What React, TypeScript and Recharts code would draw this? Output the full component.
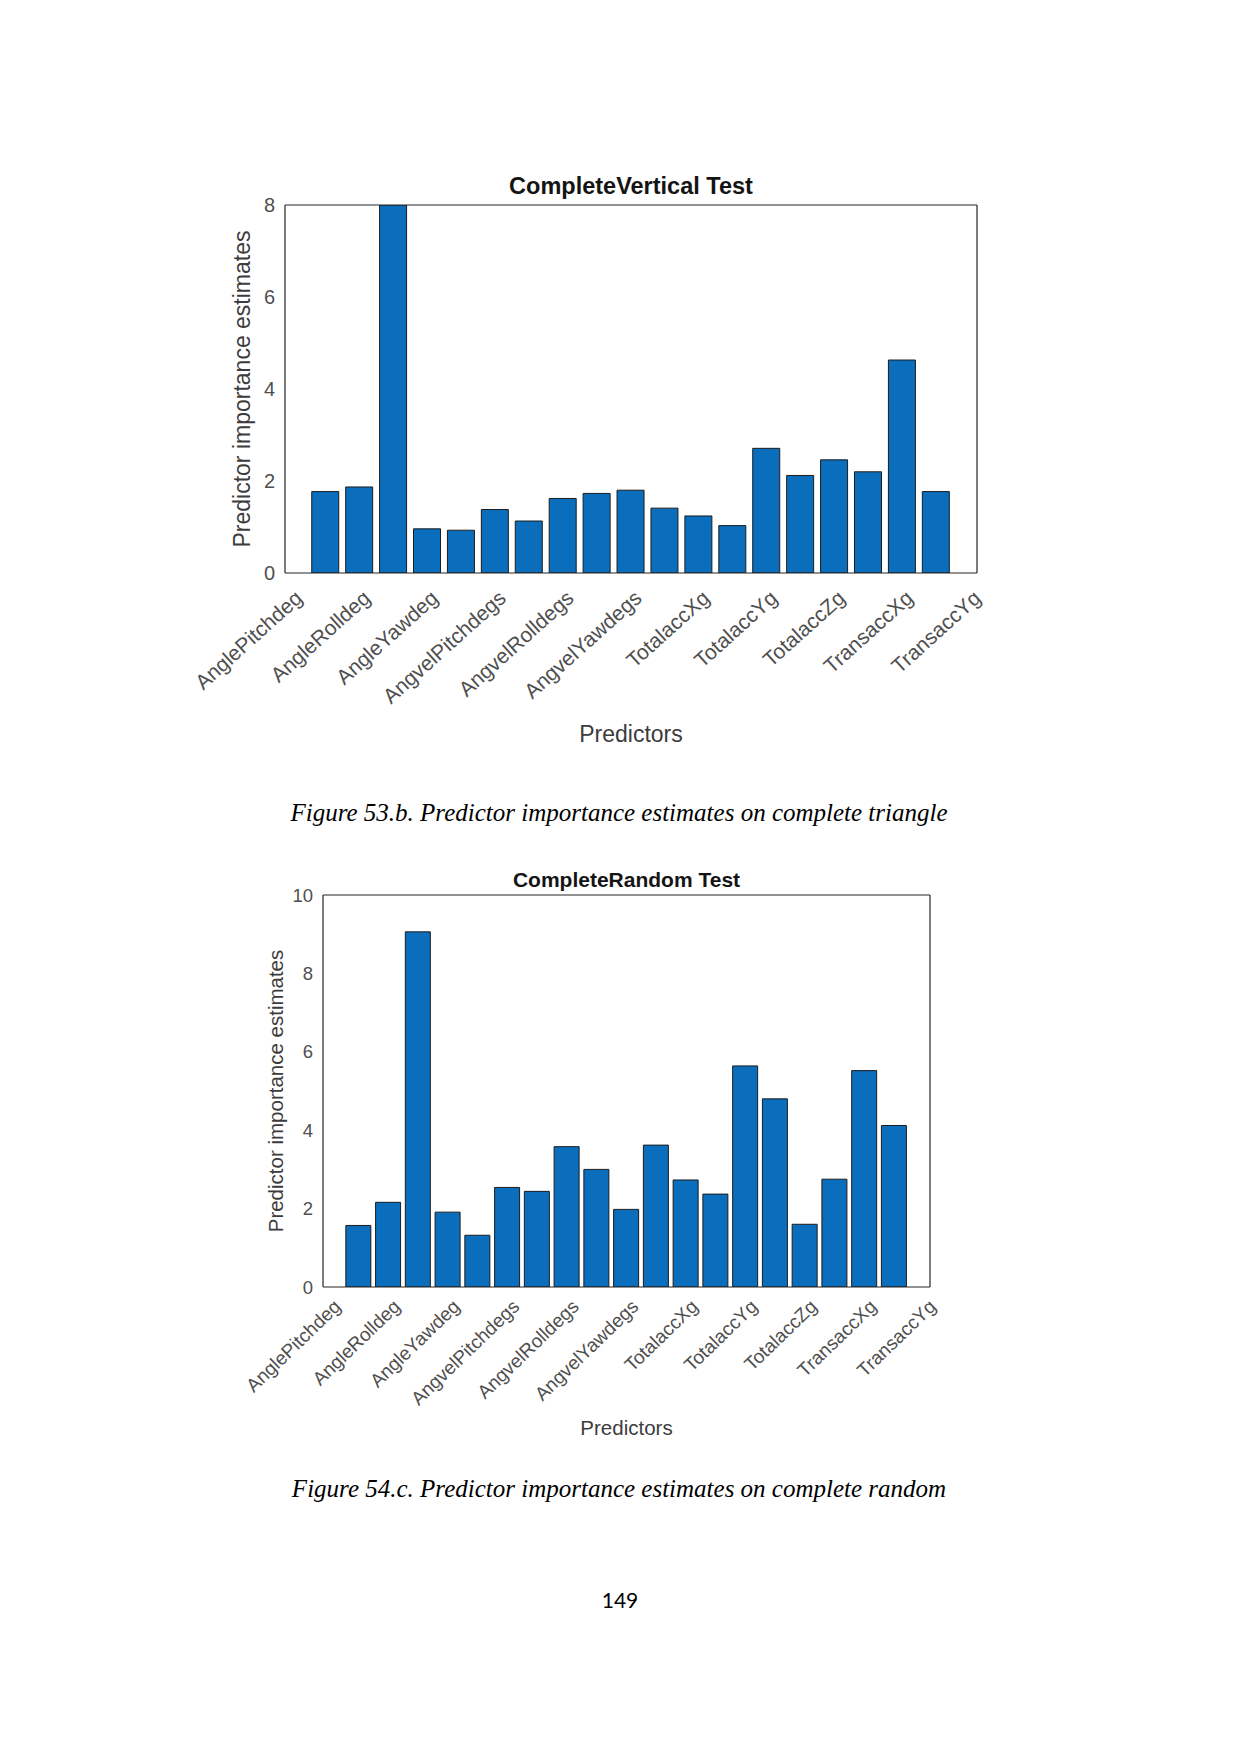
import React from 'react';
import { BarChart, Bar, XAxis, YAxis } from 'recharts';

// tick labels shown under every second bar
const predictorLabels = [
  'AnglePitchdeg',
  'AngleRolldeg',
  'AngleYawdeg',
  'AngvelPitchdegs',
  'AngvelRolldegs',
  'AngvelYawdegs',
  'TotalaccXg',
  'TotalaccYg',
  'TotalaccZg',
  'TransaccXg',
  'TransaccYg',
];
const labelPositions = [0, 2, 4, 6, 8, 10, 12, 14, 16, 18, 20];
const barPositions = [1, 2, 3, 4, 5, 6, 7, 8, 9, 10, 11, 12, 13, 14, 15, 16, 17, 18, 19];

const verticalValues = [1.77, 1.87, 8.0, 0.96, 0.93, 1.38, 1.13, 1.62, 1.73, 1.8, 1.41, 1.24, 1.03, 2.71, 2.12, 2.46, 2.2, 4.63, 1.77];
const randomValues = [1.57, 2.16, 9.06, 1.91, 1.32, 2.54, 2.44, 3.58, 3.0, 1.98, 3.62, 2.73, 2.37, 5.64, 4.8, 1.6, 2.75, 5.52, 4.12];

const verticalYTicks = [0, 2, 4, 6, 8];
const randomYTicks = [0, 2, 4, 6, 8, 10];

const SANS = '"Liberation Sans", Arial, sans-serif';
const AXIS = '#262626';
const TICK_TEXT = '#4f4f4f';

type Box = { left: number; top: number; right: number; bottom: number };

type ChartProps = {
  title: string;
  values: number[];
  yTicks: number[];
  plot: Box;
  barSize: number;
  tickFont: number;
  yTickFont: number;
  labelFont: number;
  titleFont: number;
  angle: number;
  labelDx: number;
  labelDy: number;
  yLabelX: number;
  titleY: number;
  xLabelY: number;
};

const PAD_L = 120;
const PAD_T = 40;
const PAD_R = 40;
const PAD_B = 160;
const Y_AXIS_W = 50;
const X_AXIS_H = 40;

function ImportanceChart(p: ChartProps) {
  const data = barPositions.map((pos, i) => ({ pos, value: p.values[i] }));
  const plotW = p.plot.right - p.plot.left;
  const plotH = p.plot.bottom - p.plot.top;
  const w = plotW + PAD_L + PAD_R;
  const h = plotH + PAD_T + PAD_B;
  const xDomain: [number, number] = [-0.2, 20.2];
  const yDomain: [number, number] = [0, p.yTicks[p.yTicks.length - 1]];
  const cx = (p.plot.left + p.plot.right) / 2;
  const cy = (p.plot.top + p.plot.bottom) / 2;

  const XTick = (props: any) => {
    const { x, y, payload } = props;
    const label = predictorLabels[labelPositions.indexOf(payload.value)];
    const ax = x + p.labelDx;
    const ay = y + p.labelDy;
    return (
      <text
        x={ax}
        y={ay}
        transform={`rotate(${p.angle}, ${ax}, ${ay})`}
        textAnchor="end"
        fontSize={p.tickFont}
        fontFamily={SANS}
        fill={TICK_TEXT}
      >
        {label}
      </text>
    );
  };

  return (
    <>
      <div
        style={{
          position: 'absolute',
          left: cx - 300,
          width: 600,
          top: p.titleY - 15,
          lineHeight: '30px',
          textAlign: 'center',
          fontFamily: SANS,
          fontWeight: 'bold',
          fontSize: p.titleFont,
          color: '#141414',
        }}
      >
        {p.title}
      </div>
      <div
        style={{
          position: 'absolute',
          left: p.yLabelX - 250,
          width: 500,
          top: cy - 15,
          lineHeight: '30px',
          textAlign: 'center',
          fontFamily: SANS,
          fontSize: p.labelFont,
          color: '#3c3c3c',
          transform: 'rotate(-90deg)',
        }}
      >
        Predictor importance estimates
      </div>
      <div
        style={{
          position: 'absolute',
          left: cx - 200,
          width: 400,
          top: p.xLabelY - 15,
          lineHeight: '30px',
          textAlign: 'center',
          fontFamily: SANS,
          fontSize: p.labelFont,
          color: '#3c3c3c',
        }}
      >
        Predictors
      </div>
      <div style={{ position: 'absolute', left: p.plot.left - PAD_L, top: p.plot.top - PAD_T }}>
        <BarChart
          width={w}
          height={h}
          data={data}
          margin={{ top: PAD_T, right: PAD_R, left: PAD_L - Y_AXIS_W, bottom: PAD_B - X_AXIS_H }}
        >
          <XAxis
            xAxisId={0}
            type="number"
            dataKey="pos"
            domain={xDomain}
            allowDataOverflow
            ticks={labelPositions}
            interval={0}
            height={X_AXIS_H}
            tickSize={0}
            tickMargin={0}
            tickLine={false}
            axisLine={{ stroke: AXIS, strokeWidth: 1.2 }}
            tick={XTick}
          />
          <XAxis
            xAxisId="bottomTicks"
            type="number"
            dataKey="pos"
            orientation="bottom"
            mirror
            domain={xDomain}
            allowDataOverflow
            ticks={labelPositions}
            interval={0}
            tick={false}
            tickSize={7}
            tickLine={{ stroke: AXIS }}
            axisLine={false}
          />
          <XAxis
            xAxisId="top"
            type="number"
            dataKey="pos"
            orientation="top"
            mirror
            domain={xDomain}
            allowDataOverflow
            ticks={labelPositions}
            interval={0}
            tick={false}
            tickSize={7}
            tickLine={{ stroke: AXIS }}
            axisLine={{ stroke: AXIS, strokeWidth: 1.2 }}
          />
          <YAxis
            yAxisId={0}
            type="number"
            domain={yDomain}
            allowDataOverflow
            ticks={p.yTicks}
            interval={0}
            width={Y_AXIS_W}
            tickSize={0}
            tickMargin={10}
            tickLine={false}
            axisLine={{ stroke: AXIS, strokeWidth: 1.2 }}
            tick={{ fill: TICK_TEXT, fontSize: p.yTickFont, fontFamily: SANS }}
          />
          <YAxis
            yAxisId="leftTicks"
            type="number"
            orientation="left"
            mirror
            domain={yDomain}
            allowDataOverflow
            ticks={p.yTicks}
            interval={0}
            tick={false}
            tickSize={7}
            tickLine={{ stroke: AXIS }}
            axisLine={false}
          />
          <YAxis
            yAxisId="right"
            type="number"
            orientation="right"
            mirror
            domain={yDomain}
            allowDataOverflow
            ticks={p.yTicks}
            interval={0}
            tick={false}
            tickSize={7}
            tickLine={{ stroke: AXIS }}
            axisLine={{ stroke: AXIS, strokeWidth: 1.2 }}
          />
          <Bar
            dataKey="value"
            barSize={p.barSize}
            fill="#0a6ebd"
            stroke="#1c1c1c"
            strokeWidth={1}
            isAnimationActive={false}
          />
        </BarChart>
      </div>
    </>
  );
}

const captionStyle: React.CSSProperties = {
  position: 'absolute',
  left: 0,
  width: 1238,
  textAlign: 'center',
  fontFamily: '"Liberation Serif", "Times New Roman", serif',
  fontStyle: 'italic',
  fontSize: 25,
  lineHeight: '30px',
  color: '#000',
};

export default function App() {
  return (
    <div
      style={{
        position: 'absolute',
        left: 0,
        top: 0,
        width: 1241,
        height: 1754,
        background: '#fff',
        overflow: 'hidden',
      }}
    >
      <ImportanceChart
        title="CompleteVertical Test"
        values={verticalValues}
        yTicks={verticalYTicks}
        plot={{ left: 285, top: 205, right: 977, bottom: 573 }}
        barSize={27}
        tickFont={21}
        yTickFont={20}
        labelFont={23}
        titleFont={23.5}
        angle={-42}
        labelDx={12}
        labelDy={27}
        yLabelX={242}
        titleY={186}
        xLabelY={734}
      />
      <div style={{ ...captionStyle, top: 813 - 15 }}>
        Figure 53.b. Predictor importance estimates on complete triangle
      </div>

      <ImportanceChart
        title="CompleteRandom Test"
        values={randomValues}
        yTicks={randomYTicks}
        plot={{ left: 323, top: 895, right: 930, bottom: 1287 }}
        barSize={25}
        tickFont={19}
        yTickFont={18.5}
        labelFont={20.5}
        titleFont={21}
        angle={-44}
        labelDx={13}
        labelDy={21}
        yLabelX={276}
        titleY={880}
        xLabelY={1428}
      />
      <div style={{ ...captionStyle, top: 1489 - 15 }}>
        Figure 54.c. Predictor importance estimates on complete random
      </div>

      <div
        style={{
          position: 'absolute',
          left: 0,
          width: 1240,
          top: 1600 - 15,
          lineHeight: '30px',
          textAlign: 'center',
          fontFamily: 'Lato, "Open Sans", sans-serif',
          fontSize: 21,
          color: '#000',
        }}
      >
        149
      </div>
    </div>
  );
}
